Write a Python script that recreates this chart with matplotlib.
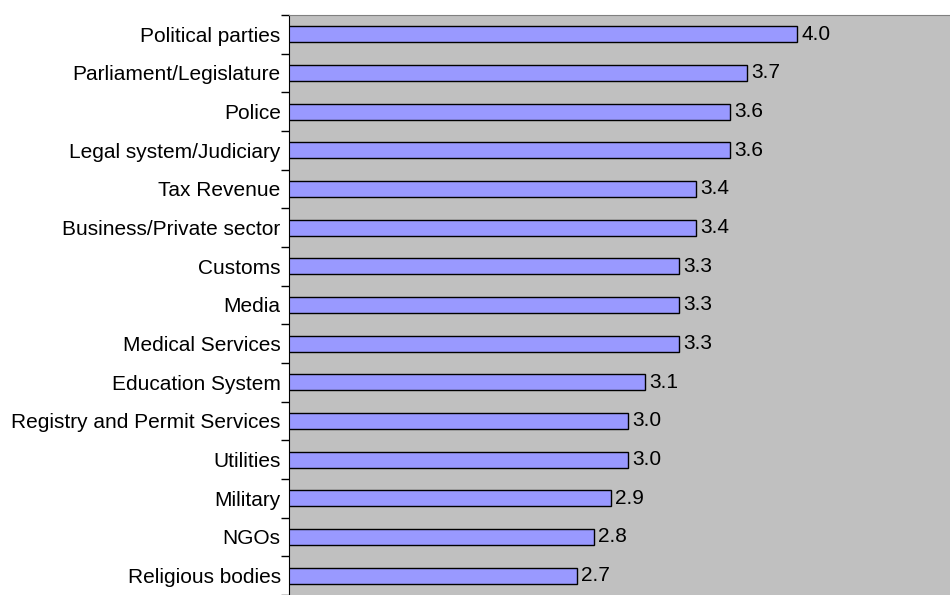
import matplotlib.pyplot as plt
import numpy as np

plt.rcParams['font.family'] = ['Liberation Sans', 'DejaVu Sans']

# Data
sectors = ['Political parties', 'Parliament/Legislature', 'Police',
           'Legal system/Judiciary', 'Tax Revenue', 'Business/Private sector',
           'Customs', 'Media', 'Medical Services', 'Education System',
           'Registry and Permit Services', 'Utilities', 'Military', 'NGOs',
           'Religious bodies']
scores = [4.0, 3.7, 3.6, 3.6, 3.4, 3.4, 3.3, 3.3, 3.3, 3.1, 3.0, 3.0, 2.9, 2.8, 2.7]

# Chart
figure = plt.figure(figsize=(9.5, 5.95), dpi=100)
axes = figure.add_axes([0.3042, 0.0, 0.6958, 0.9748])
axes.set_facecolor('#C0C0C0')

y = np.arange(len(sectors))
axes.barh(y, scores, height=0.42, left=0, color='#9999FF',
          edgecolor='black', linewidth=1)

for yi, v in zip(y, scores):
    axes.text(v + 0.025, yi, f'{v:.1f}', va='center', ha='left', fontsize=15)

axes.set_xlim(1, 4.9)
axes.set_ylim(len(sectors) - 0.5, -0.5)
axes.set_xticks([])

axes.set_yticks(y)
axes.set_yticklabels(sectors, fontsize=15)
axes.set_yticks(np.arange(-0.5, len(sectors), 1), minor=True)
axes.tick_params(axis='y', which='major', length=0, pad=6)
axes.tick_params(axis='y', which='minor', length=6, width=1, color='black')

axes.spines['left'].set_color('black')
axes.spines['top'].set_color('#808080')
axes.spines['right'].set_visible(False)
axes.spines['bottom'].set_visible(False)

plt.savefig('out.png', dpi=100)
